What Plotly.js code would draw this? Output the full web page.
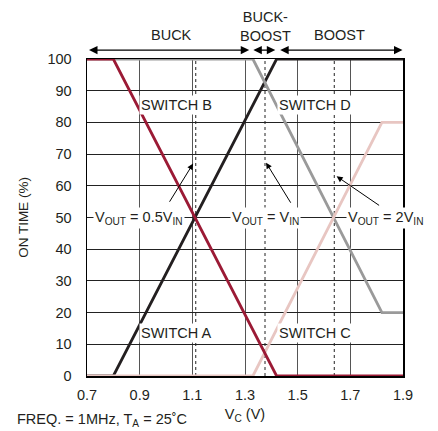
<!DOCTYPE html>
<html>
<head>
<meta charset="utf-8">
<script src="https://cdn.plot.ly/plotly-3.0.1.min.js"></script>
<style>html,body{margin:0;padding:0;background:#fff;}#chart{width:438px;height:431px;}</style>
</head>
<body>
<div id="chart"></div>
<script>
// Data
const vcA = [0.7, 0.8, 1.42, 1.9];
const onA = [100, 100, 0, 0];        // dark red
const vcB = [0.7, 0.8, 1.42, 1.9];
const onB = [0, 0, 100, 100];        // black
const vcD = [0.7, 1.33, 1.82, 1.9];
const onD = [100, 100, 20, 20];      // gray
const vcC = [0.7, 1.33, 1.82, 1.9];
const onC = [0, 0, 80, 80];          // light pink
const markerX = [1.113, 1.376, 1.639];  // dotted reference lines
const xTicks = [0.7, 0.9, 1.1, 1.3, 1.5, 1.7, 1.9];
const yTicks = [0, 10, 20, 30, 40, 50, 60, 70, 80, 90, 100];
const regionLabels = ['BUCK', 'BUCK-<br>BOOST', 'BOOST'];
const regionCenters = [1.02, 1.376, 1.66];
const regionSpans = [[0.702, 1.316], [1.326, 1.415], [1.428, 1.898]];

const FONT = "'Liberation Sans', Arial, sans-serif";
const INK = '#231f20';
const FS = 14.5;
const W = 2.8;

const traces = [
  {x: vcB, y: onB, mode: 'lines', line: {color: INK, width: W}},
  {x: vcD, y: onD, mode: 'lines', line: {color: '#9a9a9a', width: W}},
  {x: vcC, y: onC, mode: 'lines', line: {color: '#e8c6c2', width: W}},
  {x: vcA, y: onA, mode: 'lines', line: {color: '#9b1a35', width: W}}
];

const shapes = markerX.map(v => ({
  type: 'line', xref: 'x', yref: 'y', x0: v, x1: v, y0: 0, y1: 100,
  line: {color: '#222', width: 1, dash: 'dot'}, layer: 'below'
}));

function lbl(text, x, y, extra) {
  return Object.assign({text: text, x: x, y: y, xref: 'x', yref: 'y', showarrow: false,
    font: {family: FONT, size: FS, color: INK}, bgcolor: '#ffffff', borderpad: 1}, extra || {});
}
function ptr(text, tx, ty, hx, hy, tailx, taily) {
  return [
    lbl(text, tx, ty),
    {x: hx, y: hy, ax: tailx, ay: taily, xref: 'x', yref: 'y', axref: 'x', ayref: 'y', text: '',
     showarrow: true, arrowhead: 2, arrowsize: 1.2, arrowwidth: 1, arrowcolor: '#000'}
  ];
}

const annotations = [
  lbl('SWITCH B', 1.038, 85.5),
  lbl('SWITCH D', 1.566, 85.5),
  lbl('SWITCH A', 1.038, 13.6),
  lbl('SWITCH C', 1.566, 13.6),
  ...ptr('V<sub>OUT</sub> = 0.5V<sub>IN</sub>', 0.896, 50, 1.103, 67, 1.01, 54.5),
  ...ptr('V<sub>OUT</sub> = V<sub>IN</sub>', 1.376, 50, 1.38, 67.3, 1.477, 54.2),
  ...ptr('V<sub>OUT</sub> = 2V<sub>IN</sub>', 1.832, 50, 1.648, 63, 1.815, 53.5),
  {text: 'FREQ. = 1MHz, T<sub>A</sub> = 25˚C', xref: 'paper', yref: 'paper', x: -0.228, y: -0.138,
   xanchor: 'left', yanchor: 'middle', showarrow: false, font: {family: FONT, size: FS, color: INK}}
];
regionLabels.forEach((t, i) => {
  annotations.push({text: t, x: regionCenters[i], y: i === 1 ? 1.104 : 1.076, xref: 'x', yref: 'paper',
    yanchor: 'middle', showarrow: false, font: {family: FONT, size: FS, color: INK}});
  const s = regionSpans[i];
  annotations.push({x: s[1], y: 1.028, xref: 'x', yref: 'paper', axref: 'x', ax: s[0], ayref: 'pixel', ay: 0,
    text: '', showarrow: true, arrowhead: 2, arrowside: 'end+start', arrowsize: 1.3, arrowwidth: 1.3,
    arrowcolor: '#000'});
});

const layout = {
  width: 438, height: 431,
  margin: {l: 87, r: 35, t: 59, b: 55},
  paper_bgcolor: '#fff', plot_bgcolor: '#fff',
  showlegend: false,
  font: {family: FONT, size: FS, color: INK},
  xaxis: {
    range: [0.7, 1.9], tickvals: xTicks, ticktext: xTicks.map(v => v.toFixed(1)),
    showgrid: true, gridcolor: '#555', gridwidth: 1, zeroline: false,
    showline: true, mirror: true, linecolor: '#000', linewidth: 1.5,
    ticks: '', ticklabelstandoff: 5, tickfont: {family: FONT, size: FS, color: INK},
    title: {text: 'V<sub>C</sub> (V)', font: {family: FONT, size: FS, color: INK}, standoff: 7},
    fixedrange: true
  },
  yaxis: {
    range: [0, 100], tickvals: yTicks,
    showgrid: true, gridcolor: '#222', gridwidth: 1, zeroline: false,
    showline: true, mirror: true, linecolor: '#000', linewidth: 1.5,
    ticks: '', ticklabelstandoff: 11, tickfont: {family: FONT, size: FS, color: INK},
    title: {text: 'ON TIME (%)', font: {family: FONT, size: 13.5, color: INK}, standoff: 15},
    fixedrange: true
  },
  shapes: shapes,
  annotations: annotations
};

Plotly.newPlot('chart', traces, layout, {staticPlot: true, displayModeBar: false});
</script>
</body>
</html>
